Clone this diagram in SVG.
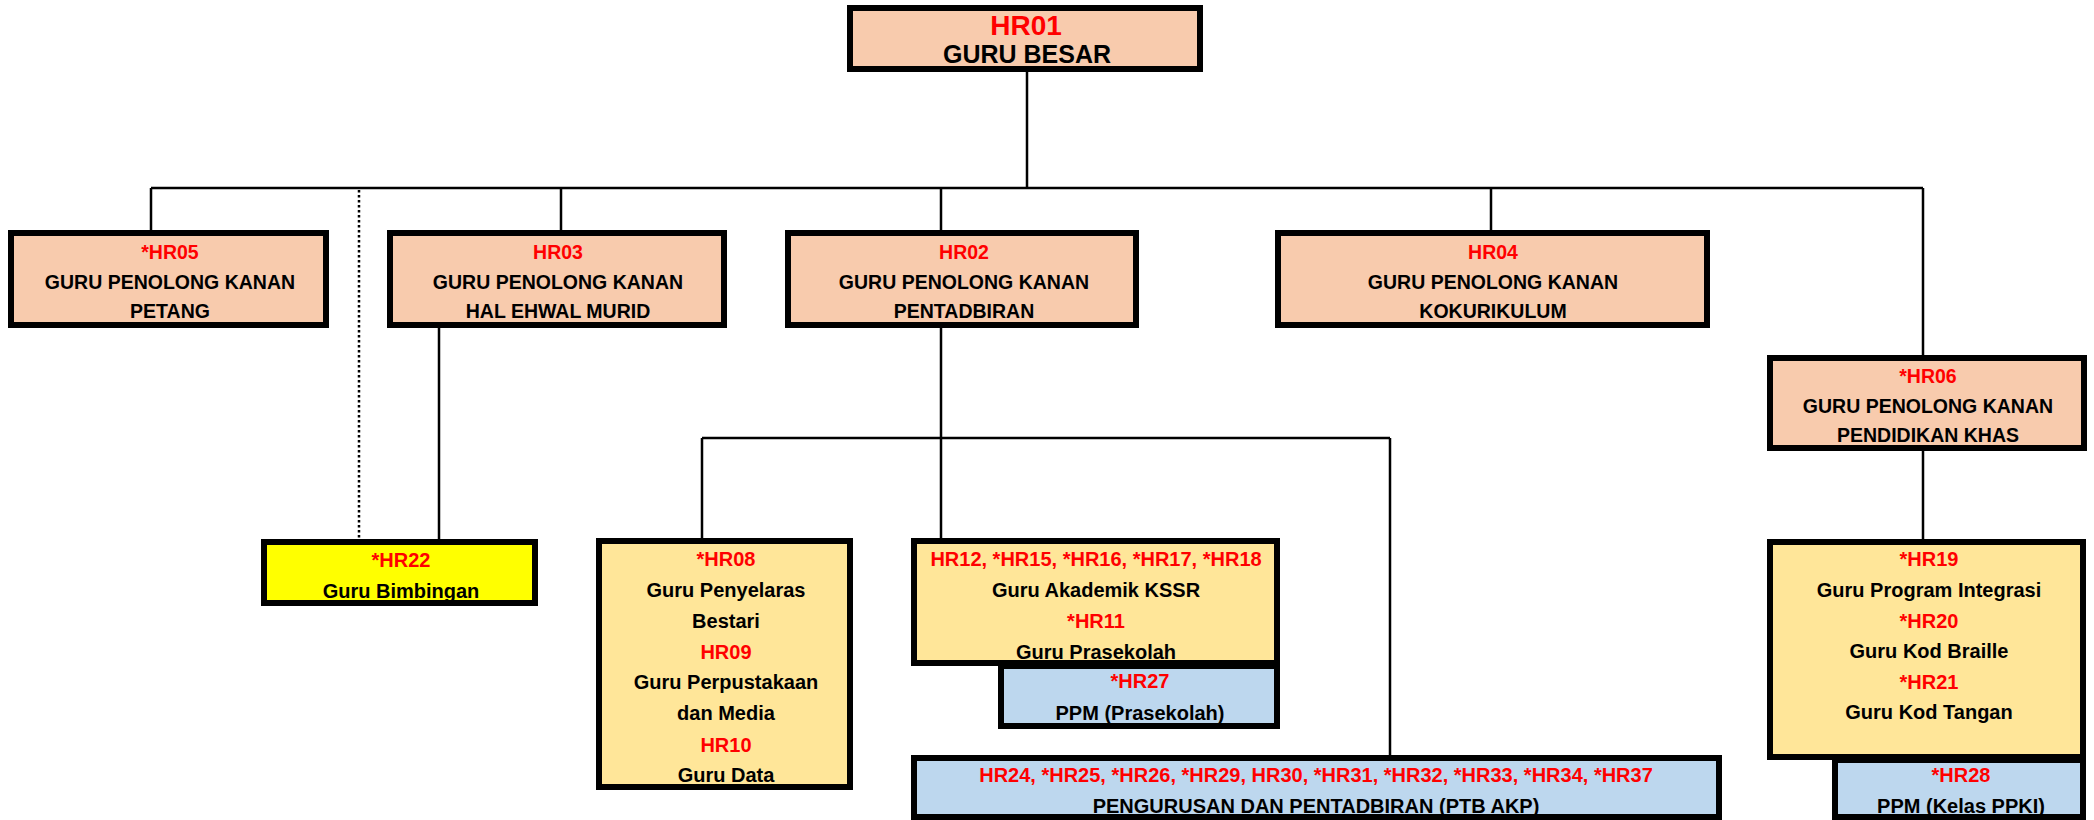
<svg xmlns="http://www.w3.org/2000/svg" width="2094" height="820" viewBox="0 0 2094 820">
<style>
.box{stroke:#000;stroke-width:6}
.peach{fill:#F8CBAD}
.ylw{fill:#FFE699}
.yel{fill:#FFFF00}
.blu{fill:#BDD7EE}
text{font-family:"Liberation Sans",Arial,sans-serif;font-weight:bold;text-anchor:middle;font-size:20px;fill:#000}
.r{fill:#FF0000}
.cap{font-size:19.5px}
.ln{stroke:#000;stroke-width:2.5;fill:none}
.dot{stroke:#000;stroke-width:2.5;stroke-dasharray:2.5 2.5;fill:none}
</style>
<rect width="2094" height="820" fill="#fff"/>
<g id="connectors">
<path class="ln" d="M1027 72V188M151 188H1923M151 188V230M561 188V230M941 188V230M1491 188V230M1923 188V355"/>
<path class="ln" d="M439 328V539M941 328V538M702 438H1390M702 438V538M1390 438V755M1923 451V539"/>
<path class="dot" d="M359 190V539"/>
</g>
<g id="HR01">
<rect class="box peach" x="850" y="8" width="350" height="61"/>
<text x="1026" y="35" class="r" style="font-size:28px">HR01</text>
<text x="1027" y="63" style="font-size:25px">GURU BESAR</text>
</g>
<g id="HR05">
<rect class="box peach" x="11" y="233" width="315" height="92"/>
<text x="170" y="259" class="r cap">*HR05</text>
<text x="170" y="289" class="cap">GURU PENOLONG KANAN</text>
<text x="170" y="318" class="cap">PETANG</text>
</g>
<g id="HR03">
<rect class="box peach" x="390" y="233" width="334" height="92"/>
<text x="558" y="259" class="r cap">HR03</text>
<text x="558" y="289" class="cap">GURU PENOLONG KANAN</text>
<text x="558" y="318" class="cap">HAL EHWAL MURID</text>
</g>
<g id="HR02">
<rect class="box peach" x="788" y="233" width="348" height="92"/>
<text x="964" y="259" class="r cap">HR02</text>
<text x="964" y="289" class="cap">GURU PENOLONG KANAN</text>
<text x="964" y="318" class="cap">PENTADBIRAN</text>
</g>
<g id="HR04">
<rect class="box peach" x="1278" y="233" width="429" height="92"/>
<text x="1493" y="259" class="r cap">HR04</text>
<text x="1493" y="289" class="cap">GURU PENOLONG KANAN</text>
<text x="1493" y="318" class="cap">KOKURIKULUM</text>
</g>
<g id="HR06">
<rect class="box peach" x="1770" y="358" width="314" height="90"/>
<text x="1928" y="383" class="r cap">*HR06</text>
<text x="1928" y="413" class="cap">GURU PENOLONG KANAN</text>
<text x="1928" y="442" class="cap">PENDIDIKAN KHAS</text>
</g>
<g id="HR22">
<rect class="box yel" x="264" y="542" width="271" height="61"/>
<text x="401" y="567" class="r">*HR22</text>
<text x="401" y="598">Guru Bimbingan</text>
</g>
<g id="HR08">
<rect class="box ylw" x="599" y="541" width="251" height="246"/>
<text x="726" y="566" class="r">*HR08</text>
<text x="726" y="597">Guru Penyelaras</text>
<text x="726" y="628">Bestari</text>
<text x="726" y="659" class="r">HR09</text>
<text x="726" y="689">Guru Perpustakaan</text>
<text x="726" y="720">dan Media</text>
<text x="726" y="752" class="r">HR10</text>
<text x="726" y="782">Guru Data</text>
</g>
<g id="HR12">
<rect class="box ylw" x="914" y="541" width="363" height="122"/>
<text x="1096" y="566" class="r">HR12, *HR15, *HR16, *HR17, *HR18</text>
<text x="1096" y="597">Guru Akademik KSSR</text>
<text x="1096" y="628" class="r">*HR11</text>
<text x="1096" y="659">Guru Prasekolah</text>
</g>
<g id="HR27">
<rect class="box blu" x="1001" y="666" width="276" height="60"/>
<text x="1140" y="688" class="r">*HR27</text>
<text x="1140" y="720">PPM (Prasekolah)</text>
</g>
<g id="HR24">
<rect class="box blu" x="914" y="758" width="805" height="59"/>
<text x="1316" y="782" class="r">HR24, *HR25, *HR26, *HR29, HR30, *HR31, *HR32, *HR33, *HR34, *HR37</text>
<text x="1316" y="813">PENGURUSAN DAN PENTADBIRAN (PTB AKP)</text>
</g>
<g id="HR19">
<rect class="box ylw" x="1770" y="542" width="313" height="215"/>
<text x="1929" y="566" class="r">*HR19</text>
<text x="1929" y="597">Guru Program Integrasi</text>
<text x="1929" y="628" class="r">*HR20</text>
<text x="1929" y="658">Guru Kod Braille</text>
<text x="1929" y="689" class="r">*HR21</text>
<text x="1929" y="719">Guru Kod Tangan</text>
</g>
<g id="HR28">
<rect class="box blu" x="1835" y="760" width="248" height="57"/>
<text x="1961" y="782" class="r">*HR28</text>
<text x="1961" y="813">PPM (Kelas PPKI)</text>
</g>
</svg>
